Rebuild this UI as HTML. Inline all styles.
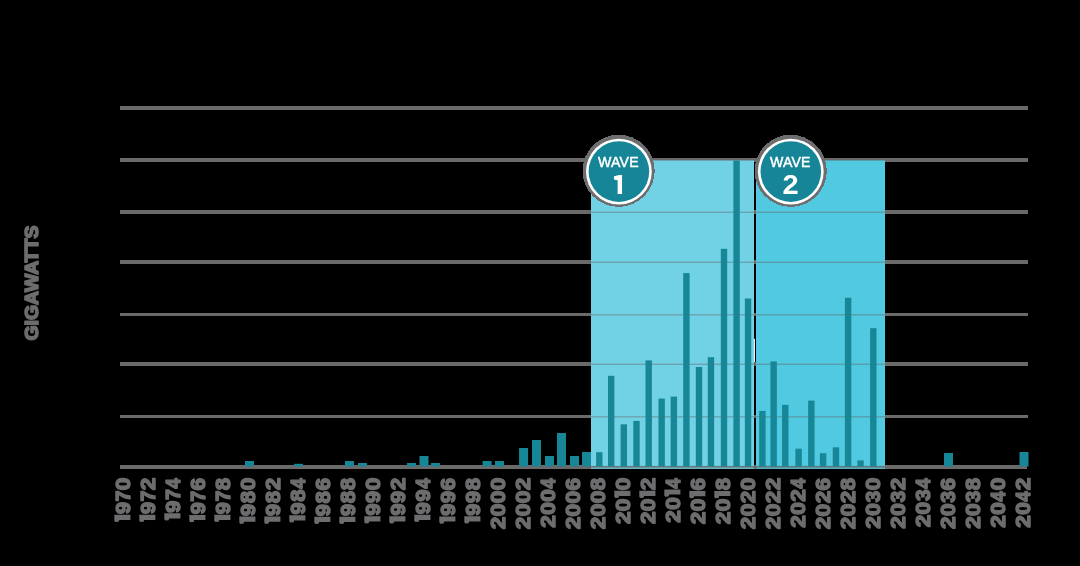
<!DOCTYPE html>
<html><head><meta charset="utf-8"><title>Chart</title>
<style>
html,body{margin:0;padding:0;background:#000;}
body{width:1080px;height:566px;overflow:hidden;font-family:"Liberation Sans", sans-serif;}
svg{display:block;will-change:transform;}
</style></head>
<body>
<svg width="1080" height="566" viewBox="0 0 1080 566">

<rect x="0" y="0" width="1080" height="566" fill="#000"/>
<rect x="120" y="106" width="908" height="4" fill="#6a6a6a"/>
<rect x="120" y="158" width="908" height="4" fill="#6a6a6a"/>
<rect x="120" y="210" width="908" height="4" fill="#6a6a6a"/>
<rect x="120" y="260" width="908" height="4" fill="#6a6a6a"/>
<rect x="120" y="313" width="908" height="3" fill="#6a6a6a"/>
<rect x="120" y="362" width="908" height="4" fill="#6a6a6a"/>
<rect x="120" y="415" width="908" height="3" fill="#6a6a6a"/>
<rect x="120" y="465" width="907" height="4" fill="#6a6a6a"/>
<rect x="591" y="160" width="163.00" height="309" fill="#72d2e5"/>
<rect x="756" y="160" width="129.00" height="309" fill="#50c9e1"/>
<rect x="591" y="159.60" width="163.00" height="1.4" fill="rgba(100,104,106,0.45)"/>
<rect x="756" y="159.60" width="129.00" height="1.4" fill="rgba(100,104,106,0.45)"/>
<rect x="591" y="211.60" width="163.00" height="1.4" fill="rgba(100,104,106,0.45)"/>
<rect x="756" y="211.60" width="129.00" height="1.4" fill="rgba(100,104,106,0.45)"/>
<rect x="591" y="261.60" width="163.00" height="1.4" fill="rgba(100,104,106,0.45)"/>
<rect x="756" y="261.60" width="129.00" height="1.4" fill="rgba(100,104,106,0.45)"/>
<rect x="591" y="314.10" width="163.00" height="1.4" fill="rgba(100,104,106,0.45)"/>
<rect x="756" y="314.10" width="129.00" height="1.4" fill="rgba(100,104,106,0.45)"/>
<rect x="591" y="363.60" width="163.00" height="1.4" fill="rgba(100,104,106,0.45)"/>
<rect x="756" y="363.60" width="129.00" height="1.4" fill="rgba(100,104,106,0.45)"/>
<rect x="591" y="416.10" width="163.00" height="1.4" fill="rgba(100,104,106,0.45)"/>
<rect x="756" y="416.10" width="129.00" height="1.4" fill="rgba(100,104,106,0.45)"/>
<rect x="591" y="465.9" width="163.00" height="1.7" fill="rgba(104,108,110,0.88)"/>
<rect x="591" y="467.6" width="163.00" height="1.4" fill="rgba(104,108,110,0.30)"/>
<rect x="756" y="465.9" width="129.00" height="1.7" fill="rgba(104,108,110,0.88)"/>
<rect x="756" y="467.6" width="129.00" height="1.4" fill="rgba(104,108,110,0.30)"/>
<rect x="245.00" y="461.00" width="9.0" height="5.40" fill="#178697"/>
<rect x="294.00" y="463.80" width="9.0" height="2.60" fill="#178697"/>
<rect x="345.00" y="461.00" width="9.0" height="5.40" fill="#178697"/>
<rect x="358.00" y="463.00" width="9.0" height="3.40" fill="#178697"/>
<rect x="407.00" y="463.00" width="9.0" height="3.40" fill="#178697"/>
<rect x="419.50" y="456.00" width="9.0" height="10.40" fill="#178697"/>
<rect x="430.85" y="463.00" width="9.0" height="3.40" fill="#178697"/>
<rect x="482.60" y="461.00" width="9.0" height="5.40" fill="#178697"/>
<rect x="495.00" y="461.00" width="9.0" height="5.40" fill="#178697"/>
<rect x="519.05" y="448.00" width="9.0" height="18.40" fill="#178697"/>
<rect x="532.00" y="440.00" width="9.0" height="26.40" fill="#178697"/>
<rect x="545.00" y="456.00" width="9.0" height="10.40" fill="#178697"/>
<rect x="557.00" y="433.00" width="9.0" height="33.40" fill="#178697"/>
<rect x="570.00" y="456.00" width="9.0" height="10.40" fill="#178697"/>
<rect x="582.00" y="452.00" width="9.0" height="14.40" fill="#178697"/>
<rect x="596.10" y="452.20" width="6.4" height="14.20" fill="#178697"/>
<rect x="608.00" y="375.80" width="6.4" height="90.60" fill="#178697"/>
<rect x="620.60" y="424.30" width="6.4" height="42.10" fill="#178697"/>
<rect x="633.30" y="420.90" width="6.4" height="45.50" fill="#178697"/>
<rect x="645.50" y="360.40" width="6.4" height="106.00" fill="#178697"/>
<rect x="658.45" y="398.60" width="6.4" height="67.80" fill="#178697"/>
<rect x="670.65" y="396.60" width="6.4" height="69.80" fill="#178697"/>
<rect x="683.20" y="273.10" width="6.4" height="193.30" fill="#178697"/>
<rect x="695.80" y="367.00" width="6.4" height="99.40" fill="#178697"/>
<rect x="707.75" y="357.20" width="6.4" height="109.20" fill="#178697"/>
<rect x="720.80" y="248.80" width="6.4" height="217.60" fill="#178697"/>
<rect x="733.40" y="160.50" width="6.4" height="305.90" fill="#178697"/>
<rect x="744.85" y="298.50" width="6.4" height="167.90" fill="#178697"/>
<rect x="759.20" y="410.90" width="6.4" height="55.50" fill="#178697"/>
<rect x="770.45" y="361.40" width="6.4" height="105.00" fill="#178697"/>
<rect x="782.05" y="404.90" width="6.4" height="61.50" fill="#178697"/>
<rect x="795.40" y="448.70" width="6.4" height="17.70" fill="#178697"/>
<rect x="808.15" y="400.60" width="6.4" height="65.80" fill="#178697"/>
<rect x="819.90" y="453.20" width="6.4" height="13.20" fill="#178697"/>
<rect x="832.75" y="447.30" width="6.4" height="19.10" fill="#178697"/>
<rect x="844.90" y="297.80" width="6.4" height="168.60" fill="#178697"/>
<rect x="857.35" y="460.40" width="6.4" height="6.00" fill="#178697"/>
<rect x="870.10" y="328.20" width="6.4" height="138.20" fill="#178697"/>
<rect x="944.00" y="453.00" width="9.0" height="13.40" fill="#178697"/>
<rect x="1019.50" y="452.00" width="9.0" height="14.40" fill="#178697"/>
<rect x="753.9" y="338.8" width="1.05" height="23.2" fill="#fff"/>
<circle cx="618.6" cy="170.8" r="36.1" fill="#6d6d6f" shape-rendering="crispEdges"/>
<circle cx="618.9" cy="171.6" r="32.9" fill="#fff"/>
<circle cx="618.9" cy="171.6" r="30.3" fill="#168598"/>
<text x="618.4" y="166.8" text-anchor="middle" font-family="Liberation Sans, sans-serif" font-weight="normal" font-size="14.1" letter-spacing="0.2" fill="#fff" stroke="#fff" stroke-width="0.45">WAVE</text>
<polygon points="613.75,176.53 618.75,175.00 622.05,175.00 622.05,194.10 617.65,194.10 617.65,180.16 614.25,179.78" fill="#fff"/>
<circle cx="790.7" cy="170.8" r="36.1" fill="#6d6d6f" shape-rendering="crispEdges"/>
<circle cx="790.8" cy="171.6" r="32.9" fill="#fff"/>
<circle cx="790.8" cy="171.6" r="30.3" fill="#168598"/>
<text x="790.3" y="166.8" text-anchor="middle" font-family="Liberation Sans, sans-serif" font-weight="normal" font-size="14.1" letter-spacing="0.2" fill="#fff" stroke="#fff" stroke-width="0.45">WAVE</text>
<text transform="translate(790.5999999999999,194.2) scale(1.06,1)" text-anchor="middle" font-family="Liberation Sans, sans-serif" font-weight="bold" font-size="27.4" fill="#fff">2</text>
<text transform="translate(38.3,283) rotate(-90) scale(1.05,1)" text-anchor="middle" font-family="Liberation Sans, sans-serif" font-weight="bold" font-size="18.5" fill="#6d6d6f" stroke="#6d6d6f" stroke-width="1.6" stroke-linejoin="round">GIGAWATTS</text>
<g font-family="Liberation Sans, sans-serif" font-weight="bold" font-size="20.6" fill="#6d6d6f" stroke="#6d6d6f" stroke-width="1.5" stroke-linejoin="round">
<text transform="translate(129.57,490.20) rotate(-90) scale(1.101,1)" x="-0.07" y="0">0</text>
<text transform="translate(129.57,501.40) rotate(-90) scale(0.951,1)" x="-0.14" y="0">7</text>
<text transform="translate(129.57,514.10) rotate(-90) scale(1.057,1)" x="0.03" y="0">9</text>
<polygon points="114.30,514.70 130.42,514.70 130.42,519.90 119.13,519.90 118.65,521.70 115.26,522.00 114.30,520.70" stroke="none"/>
<text transform="translate(154.57,490.20) rotate(-90) scale(1.089,1)" x="0.03" y="0">2</text>
<text transform="translate(154.57,501.40) rotate(-90) scale(0.951,1)" x="-0.14" y="0">7</text>
<text transform="translate(154.57,514.10) rotate(-90) scale(1.057,1)" x="0.03" y="0">9</text>
<polygon points="139.30,514.70 155.42,514.70 155.42,519.90 144.13,519.90 143.65,521.70 140.26,522.00 139.30,520.70" stroke="none"/>
<text transform="translate(179.57,488.80) rotate(-90) scale(0.879,1)" x="0.44" y="0">4</text>
<text transform="translate(179.57,500.00) rotate(-90) scale(0.951,1)" x="-0.14" y="0">7</text>
<text transform="translate(179.57,512.70) rotate(-90) scale(1.057,1)" x="0.03" y="0">9</text>
<polygon points="164.30,513.30 180.42,513.30 180.42,518.50 169.13,518.50 168.65,520.30 165.26,520.60 164.30,519.30" stroke="none"/>
<text transform="translate(204.57,490.40) rotate(-90) scale(1.102,1)" x="-0.01" y="0">6</text>
<text transform="translate(204.57,501.60) rotate(-90) scale(0.951,1)" x="-0.14" y="0">7</text>
<text transform="translate(204.57,514.30) rotate(-90) scale(1.057,1)" x="0.03" y="0">9</text>
<polygon points="189.30,514.90 205.42,514.90 205.42,520.10 194.13,520.10 193.65,521.90 190.26,522.20 189.30,520.90" stroke="none"/>
<text transform="translate(229.57,490.30) rotate(-90) scale(1.074,1)" x="0.09" y="0">8</text>
<text transform="translate(229.57,501.50) rotate(-90) scale(0.951,1)" x="-0.14" y="0">7</text>
<text transform="translate(229.57,514.20) rotate(-90) scale(1.057,1)" x="0.03" y="0">9</text>
<polygon points="214.30,514.80 230.42,514.80 230.42,520.00 219.13,520.00 218.65,521.80 215.26,522.10 214.30,520.80" stroke="none"/>
<text transform="translate(254.57,490.20) rotate(-90) scale(1.101,1)" x="-0.07" y="0">0</text>
<text transform="translate(254.57,503.30) rotate(-90) scale(1.074,1)" x="0.09" y="0">8</text>
<text transform="translate(254.57,516.00) rotate(-90) scale(1.057,1)" x="0.03" y="0">9</text>
<polygon points="239.30,516.60 255.42,516.60 255.42,521.80 244.13,521.80 243.65,523.60 240.26,523.90 239.30,522.60" stroke="none"/>
<text transform="translate(279.57,490.20) rotate(-90) scale(1.089,1)" x="0.03" y="0">2</text>
<text transform="translate(279.57,503.30) rotate(-90) scale(1.074,1)" x="0.09" y="0">8</text>
<text transform="translate(279.57,516.00) rotate(-90) scale(1.057,1)" x="0.03" y="0">9</text>
<polygon points="264.30,516.60 280.42,516.60 280.42,521.80 269.13,521.80 268.65,523.60 265.26,523.90 264.30,522.60" stroke="none"/>
<text transform="translate(304.57,488.80) rotate(-90) scale(0.879,1)" x="0.44" y="0">4</text>
<text transform="translate(304.57,501.90) rotate(-90) scale(1.074,1)" x="0.09" y="0">8</text>
<text transform="translate(304.57,514.60) rotate(-90) scale(1.057,1)" x="0.03" y="0">9</text>
<polygon points="289.30,515.20 305.42,515.20 305.42,520.40 294.13,520.40 293.65,522.20 290.26,522.50 289.30,521.20" stroke="none"/>
<text transform="translate(329.57,490.40) rotate(-90) scale(1.102,1)" x="-0.01" y="0">6</text>
<text transform="translate(329.57,503.50) rotate(-90) scale(1.074,1)" x="0.09" y="0">8</text>
<text transform="translate(329.57,516.20) rotate(-90) scale(1.057,1)" x="0.03" y="0">9</text>
<polygon points="314.30,516.80 330.42,516.80 330.42,522.00 319.13,522.00 318.65,523.80 315.26,524.10 314.30,522.80" stroke="none"/>
<text transform="translate(354.57,490.30) rotate(-90) scale(1.074,1)" x="0.09" y="0">8</text>
<text transform="translate(354.57,503.40) rotate(-90) scale(1.074,1)" x="0.09" y="0">8</text>
<text transform="translate(354.57,516.10) rotate(-90) scale(1.057,1)" x="0.03" y="0">9</text>
<polygon points="339.30,516.70 355.42,516.70 355.42,521.90 344.13,521.90 343.65,523.70 340.26,524.00 339.30,522.70" stroke="none"/>
<text transform="translate(379.57,490.20) rotate(-90) scale(1.101,1)" x="-0.07" y="0">0</text>
<text transform="translate(379.57,502.90) rotate(-90) scale(1.057,1)" x="0.03" y="0">9</text>
<text transform="translate(379.57,515.60) rotate(-90) scale(1.057,1)" x="0.03" y="0">9</text>
<polygon points="364.30,516.20 380.42,516.20 380.42,521.40 369.13,521.40 368.65,523.20 365.26,523.50 364.30,522.20" stroke="none"/>
<text transform="translate(404.57,490.20) rotate(-90) scale(1.089,1)" x="0.03" y="0">2</text>
<text transform="translate(404.57,502.90) rotate(-90) scale(1.057,1)" x="0.03" y="0">9</text>
<text transform="translate(404.57,515.60) rotate(-90) scale(1.057,1)" x="0.03" y="0">9</text>
<polygon points="389.30,516.20 405.42,516.20 405.42,521.40 394.13,521.40 393.65,523.20 390.26,523.50 389.30,522.20" stroke="none"/>
<text transform="translate(429.57,488.80) rotate(-90) scale(0.879,1)" x="0.44" y="0">4</text>
<text transform="translate(429.57,501.50) rotate(-90) scale(1.057,1)" x="0.03" y="0">9</text>
<text transform="translate(429.57,514.20) rotate(-90) scale(1.057,1)" x="0.03" y="0">9</text>
<polygon points="414.30,514.80 430.42,514.80 430.42,520.00 419.13,520.00 418.65,521.80 415.26,522.10 414.30,520.80" stroke="none"/>
<text transform="translate(454.57,490.40) rotate(-90) scale(1.102,1)" x="-0.01" y="0">6</text>
<text transform="translate(454.57,503.10) rotate(-90) scale(1.057,1)" x="0.03" y="0">9</text>
<text transform="translate(454.57,515.80) rotate(-90) scale(1.057,1)" x="0.03" y="0">9</text>
<polygon points="439.30,516.40 455.42,516.40 455.42,521.60 444.13,521.60 443.65,523.40 440.26,523.70 439.30,522.40" stroke="none"/>
<text transform="translate(479.57,490.30) rotate(-90) scale(1.074,1)" x="0.09" y="0">8</text>
<text transform="translate(479.57,503.00) rotate(-90) scale(1.057,1)" x="0.03" y="0">9</text>
<text transform="translate(479.57,515.70) rotate(-90) scale(1.057,1)" x="0.03" y="0">9</text>
<polygon points="464.30,516.30 480.42,516.30 480.42,521.50 469.13,521.50 468.65,523.30 465.26,523.60 464.30,522.30" stroke="none"/>
<text transform="translate(504.57,490.20) rotate(-90) scale(1.101,1)" x="-0.07" y="0">0</text>
<text transform="translate(504.57,503.20) rotate(-90) scale(1.101,1)" x="-0.07" y="0">0</text>
<text transform="translate(504.57,516.20) rotate(-90) scale(1.101,1)" x="-0.07" y="0">0</text>
<text transform="translate(504.57,529.20) rotate(-90) scale(1.089,1)" x="0.03" y="0">2</text>
<text transform="translate(529.57,490.20) rotate(-90) scale(1.089,1)" x="0.03" y="0">2</text>
<text transform="translate(529.57,503.20) rotate(-90) scale(1.101,1)" x="-0.07" y="0">0</text>
<text transform="translate(529.57,516.20) rotate(-90) scale(1.101,1)" x="-0.07" y="0">0</text>
<text transform="translate(529.57,529.20) rotate(-90) scale(1.089,1)" x="0.03" y="0">2</text>
<text transform="translate(554.57,488.80) rotate(-90) scale(0.879,1)" x="0.44" y="0">4</text>
<text transform="translate(554.57,501.80) rotate(-90) scale(1.101,1)" x="-0.07" y="0">0</text>
<text transform="translate(554.57,514.80) rotate(-90) scale(1.101,1)" x="-0.07" y="0">0</text>
<text transform="translate(554.57,527.80) rotate(-90) scale(1.089,1)" x="0.03" y="0">2</text>
<text transform="translate(579.57,490.40) rotate(-90) scale(1.102,1)" x="-0.01" y="0">6</text>
<text transform="translate(579.57,503.40) rotate(-90) scale(1.101,1)" x="-0.07" y="0">0</text>
<text transform="translate(579.57,516.40) rotate(-90) scale(1.101,1)" x="-0.07" y="0">0</text>
<text transform="translate(579.57,529.40) rotate(-90) scale(1.089,1)" x="0.03" y="0">2</text>
<text transform="translate(604.57,490.30) rotate(-90) scale(1.074,1)" x="0.09" y="0">8</text>
<text transform="translate(604.57,503.30) rotate(-90) scale(1.101,1)" x="-0.07" y="0">0</text>
<text transform="translate(604.57,516.30) rotate(-90) scale(1.101,1)" x="-0.07" y="0">0</text>
<text transform="translate(604.57,529.30) rotate(-90) scale(1.089,1)" x="0.03" y="0">2</text>
<text transform="translate(629.57,490.20) rotate(-90) scale(1.101,1)" x="-0.07" y="0">0</text>
<polygon points="614.30,490.80 630.42,490.80 630.42,496.00 619.13,496.00 618.65,497.80 615.26,498.10 614.30,496.80" stroke="none"/>
<text transform="translate(629.57,511.10) rotate(-90) scale(1.101,1)" x="-0.07" y="0">0</text>
<text transform="translate(629.57,524.10) rotate(-90) scale(1.089,1)" x="0.03" y="0">2</text>
<text transform="translate(654.57,490.20) rotate(-90) scale(1.089,1)" x="0.03" y="0">2</text>
<polygon points="639.30,490.80 655.42,490.80 655.42,496.00 644.13,496.00 643.65,497.80 640.26,498.10 639.30,496.80" stroke="none"/>
<text transform="translate(654.57,511.10) rotate(-90) scale(1.101,1)" x="-0.07" y="0">0</text>
<text transform="translate(654.57,524.10) rotate(-90) scale(1.089,1)" x="0.03" y="0">2</text>
<text transform="translate(679.57,488.80) rotate(-90) scale(0.879,1)" x="0.44" y="0">4</text>
<polygon points="664.30,489.40 680.42,489.40 680.42,494.60 669.13,494.60 668.65,496.40 665.26,496.70 664.30,495.40" stroke="none"/>
<text transform="translate(679.57,509.70) rotate(-90) scale(1.101,1)" x="-0.07" y="0">0</text>
<text transform="translate(679.57,522.70) rotate(-90) scale(1.089,1)" x="0.03" y="0">2</text>
<text transform="translate(704.57,490.40) rotate(-90) scale(1.102,1)" x="-0.01" y="0">6</text>
<polygon points="689.30,491.00 705.42,491.00 705.42,496.20 694.13,496.20 693.65,498.00 690.26,498.30 689.30,497.00" stroke="none"/>
<text transform="translate(704.57,511.30) rotate(-90) scale(1.101,1)" x="-0.07" y="0">0</text>
<text transform="translate(704.57,524.30) rotate(-90) scale(1.089,1)" x="0.03" y="0">2</text>
<text transform="translate(729.57,490.30) rotate(-90) scale(1.074,1)" x="0.09" y="0">8</text>
<polygon points="714.30,490.90 730.42,490.90 730.42,496.10 719.13,496.10 718.65,497.90 715.26,498.20 714.30,496.90" stroke="none"/>
<text transform="translate(729.57,511.20) rotate(-90) scale(1.101,1)" x="-0.07" y="0">0</text>
<text transform="translate(729.57,524.20) rotate(-90) scale(1.089,1)" x="0.03" y="0">2</text>
<text transform="translate(754.57,490.20) rotate(-90) scale(1.101,1)" x="-0.07" y="0">0</text>
<text transform="translate(754.57,503.20) rotate(-90) scale(1.089,1)" x="0.03" y="0">2</text>
<text transform="translate(754.57,516.20) rotate(-90) scale(1.101,1)" x="-0.07" y="0">0</text>
<text transform="translate(754.57,529.20) rotate(-90) scale(1.089,1)" x="0.03" y="0">2</text>
<text transform="translate(779.57,490.20) rotate(-90) scale(1.089,1)" x="0.03" y="0">2</text>
<text transform="translate(779.57,503.20) rotate(-90) scale(1.089,1)" x="0.03" y="0">2</text>
<text transform="translate(779.57,516.20) rotate(-90) scale(1.101,1)" x="-0.07" y="0">0</text>
<text transform="translate(779.57,529.20) rotate(-90) scale(1.089,1)" x="0.03" y="0">2</text>
<text transform="translate(804.57,488.80) rotate(-90) scale(0.879,1)" x="0.44" y="0">4</text>
<text transform="translate(804.57,501.80) rotate(-90) scale(1.089,1)" x="0.03" y="0">2</text>
<text transform="translate(804.57,514.80) rotate(-90) scale(1.101,1)" x="-0.07" y="0">0</text>
<text transform="translate(804.57,527.80) rotate(-90) scale(1.089,1)" x="0.03" y="0">2</text>
<text transform="translate(829.57,490.40) rotate(-90) scale(1.102,1)" x="-0.01" y="0">6</text>
<text transform="translate(829.57,503.40) rotate(-90) scale(1.089,1)" x="0.03" y="0">2</text>
<text transform="translate(829.57,516.40) rotate(-90) scale(1.101,1)" x="-0.07" y="0">0</text>
<text transform="translate(829.57,529.40) rotate(-90) scale(1.089,1)" x="0.03" y="0">2</text>
<text transform="translate(854.57,490.30) rotate(-90) scale(1.074,1)" x="0.09" y="0">8</text>
<text transform="translate(854.57,503.30) rotate(-90) scale(1.089,1)" x="0.03" y="0">2</text>
<text transform="translate(854.57,516.30) rotate(-90) scale(1.101,1)" x="-0.07" y="0">0</text>
<text transform="translate(854.57,529.30) rotate(-90) scale(1.089,1)" x="0.03" y="0">2</text>
<text transform="translate(879.57,490.20) rotate(-90) scale(1.101,1)" x="-0.07" y="0">0</text>
<text transform="translate(879.57,502.80) rotate(-90) scale(1.024,1)" x="0.28" y="0">3</text>
<text transform="translate(879.57,515.80) rotate(-90) scale(1.101,1)" x="-0.07" y="0">0</text>
<text transform="translate(879.57,528.80) rotate(-90) scale(1.089,1)" x="0.03" y="0">2</text>
<text transform="translate(904.57,490.20) rotate(-90) scale(1.089,1)" x="0.03" y="0">2</text>
<text transform="translate(904.57,502.80) rotate(-90) scale(1.024,1)" x="0.28" y="0">3</text>
<text transform="translate(904.57,515.80) rotate(-90) scale(1.101,1)" x="-0.07" y="0">0</text>
<text transform="translate(904.57,528.80) rotate(-90) scale(1.089,1)" x="0.03" y="0">2</text>
<text transform="translate(929.57,488.80) rotate(-90) scale(0.879,1)" x="0.44" y="0">4</text>
<text transform="translate(929.57,501.40) rotate(-90) scale(1.024,1)" x="0.28" y="0">3</text>
<text transform="translate(929.57,514.40) rotate(-90) scale(1.101,1)" x="-0.07" y="0">0</text>
<text transform="translate(929.57,527.40) rotate(-90) scale(1.089,1)" x="0.03" y="0">2</text>
<text transform="translate(954.57,490.40) rotate(-90) scale(1.102,1)" x="-0.01" y="0">6</text>
<text transform="translate(954.57,503.00) rotate(-90) scale(1.024,1)" x="0.28" y="0">3</text>
<text transform="translate(954.57,516.00) rotate(-90) scale(1.101,1)" x="-0.07" y="0">0</text>
<text transform="translate(954.57,529.00) rotate(-90) scale(1.089,1)" x="0.03" y="0">2</text>
<text transform="translate(979.57,490.30) rotate(-90) scale(1.074,1)" x="0.09" y="0">8</text>
<text transform="translate(979.57,502.90) rotate(-90) scale(1.024,1)" x="0.28" y="0">3</text>
<text transform="translate(979.57,515.90) rotate(-90) scale(1.101,1)" x="-0.07" y="0">0</text>
<text transform="translate(979.57,528.90) rotate(-90) scale(1.089,1)" x="0.03" y="0">2</text>
<text transform="translate(1004.57,490.20) rotate(-90) scale(1.101,1)" x="-0.07" y="0">0</text>
<text transform="translate(1004.57,501.80) rotate(-90) scale(0.879,1)" x="0.44" y="0">4</text>
<text transform="translate(1004.57,514.80) rotate(-90) scale(1.101,1)" x="-0.07" y="0">0</text>
<text transform="translate(1004.57,527.80) rotate(-90) scale(1.089,1)" x="0.03" y="0">2</text>
<text transform="translate(1029.57,490.20) rotate(-90) scale(1.089,1)" x="0.03" y="0">2</text>
<text transform="translate(1029.57,501.80) rotate(-90) scale(0.879,1)" x="0.44" y="0">4</text>
<text transform="translate(1029.57,514.80) rotate(-90) scale(1.101,1)" x="-0.07" y="0">0</text>
<text transform="translate(1029.57,527.80) rotate(-90) scale(1.089,1)" x="0.03" y="0">2</text>
</g>
</svg>
</body></html>
